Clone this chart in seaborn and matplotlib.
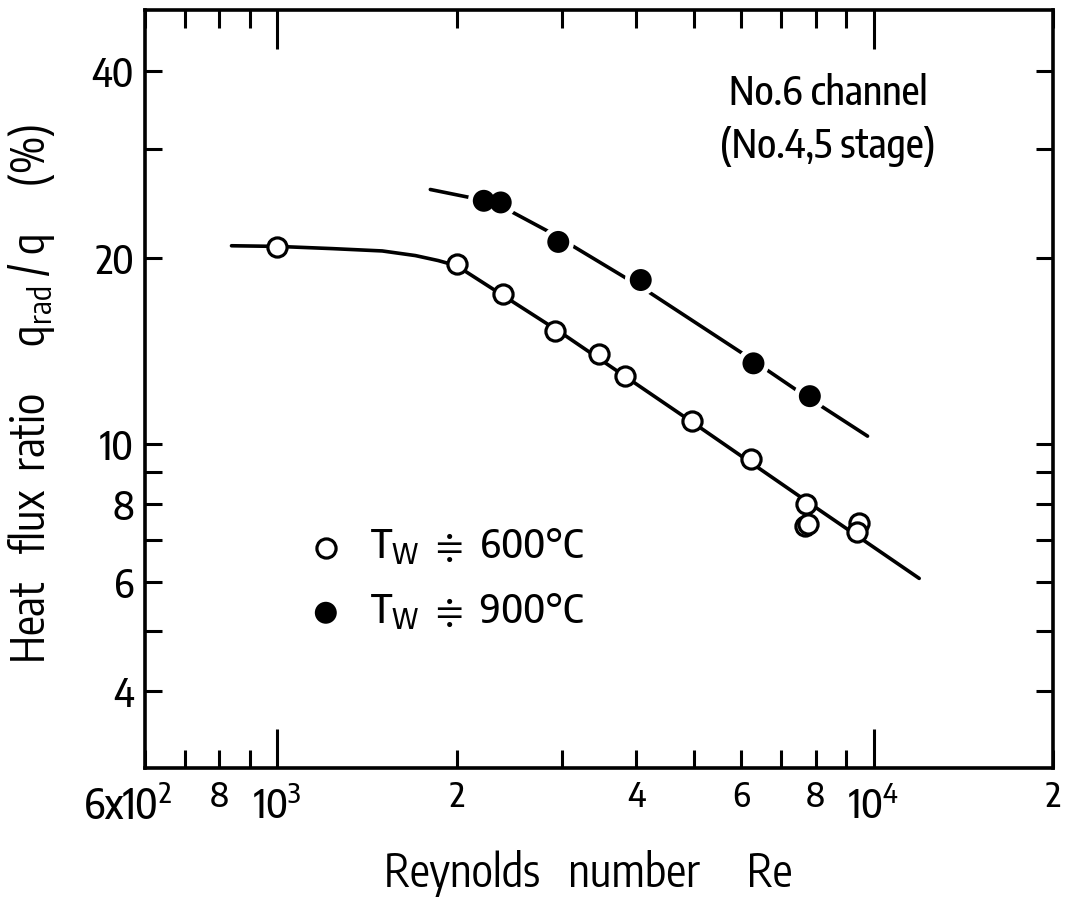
import matplotlib
matplotlib.use("Agg")
import matplotlib.pyplot as plt
import matplotlib.transforms as mtransforms
import seaborn as sns
import pandas as pd
from matplotlib import font_manager
from matplotlib.font_manager import FontProperties
from matplotlib.textpath import TextPath
from matplotlib.ticker import FixedLocator, FixedFormatter, NullFormatter

# ---------------- data ----------------
re_600 = [1000, 2000, 2390, 2920, 3470, 3830, 4970, 6220, 7700, 7670, 7760, 9440, 9370]
q_600 = [20.8, 19.5, 17.5, 15.2, 14.0, 12.9, 10.9, 9.45, 8.0, 7.37, 7.42, 7.45, 7.2]
re_900 = [2220, 2370, 2960, 4070, 6290, 7820]
q_900 = [24.7, 24.55, 21.2, 18.4, 13.5, 11.95]
fit600_re = [838, 1000, 1235, 1500, 1705, 1862, 2000, 3000, 5000, 8000, 11930]
fit600_q = [20.9, 20.85, 20.68, 20.5, 20.15, 19.78, 19.4, 15.1, 10.8, 7.9, 6.07]
fit900_re = [1806, 2106, 2455, 2872, 3861, 4217, 6049, 7469, 9772]
fit900_q = [25.76, 25.0, 23.8, 21.95, 18.49, 17.55, 13.98, 12.18, 10.30]

x_major = [1000, 10000]
x_major_labels = [r"$\mathregular{10^3}$", r"$\mathregular{10^4}$"]
x_minor = [600, 700, 800, 900, 2000, 3000, 4000, 5000, 6000, 7000, 8000, 9000, 20000]
x_minor_labels = [r"6x$\mathregular{10^2}$", "", "8", "", "2", "", "4", "", "6", "", "8", "", "2"]
y_major = [4, 6, 8, 10, 20, 40]
y_major_labels = ["4", "6", "8", "10", "20", "40"]
y_minor = [5, 7, 9, 30]

label_600 = r"T$_\mathregular{W}$ $\doteqdot$ 600°C"
label_900 = r"T$_\mathregular{W}$ $\doteqdot$ 900°C"
xlabel = "Reynolds   number     Re"
ylabel = "Heat   flux  ratio     q$_\\mathregular{rad}$ / q     (%)"
note = "No.6 channel\n(No.4,5 stage)"

# ---------------- style ----------------
sns.set_theme(style="ticks")
names = {f.name for f in font_manager.fontManager.ttflist}
fam = next((f for f in ["Encode Sans Condensed", "Roboto Condensed", "Archivo Narrow"] if f in names),
           "DejaVu Sans")
WEIGHT = "medium"
plt.rcParams['font.family'] = [fam, 'DejaVu Sans']
plt.rcParams['font.weight'] = WEIGHT
plt.rcParams['mathtext.fontset'] = 'custom'
plt.rcParams['mathtext.rm'] = fam + ":" + WEIGHT
plt.rcParams['mathtext.fallback'] = 'stixsans'
plt.rcParams['axes.linewidth'] = 2.6
for k in ['axes.edgecolor', 'text.color', 'axes.labelcolor', 'xtick.color', 'ytick.color']:
    plt.rcParams[k] = 'black'


def fs(px, ch="H"):
    """font size (pt) giving glyph `ch` a height of `px` pixels at 100 dpi"""
    h = TextPath((0, 0), ch, size=100,
                 prop=FontProperties(family=fam, weight=WEIGHT)).get_extents().height
    return px * 100.0 / h * 0.72


fig = plt.figure(figsize=(10.65, 8.97), dpi=100)
ax = fig.add_axes([145/1065, 1-768/897, 908/1065, 758/897])

d600 = pd.DataFrame({"Re": fit600_re, "q": fit600_q})
d900 = pd.DataFrame({"Re": fit900_re, "q": fit900_q})
sns.lineplot(data=d600, x="Re", y="q", ax=ax, color="black", lw=2.6, sort=False, zorder=2)
sns.lineplot(data=d900, x="Re", y="q", ax=ax, color="black", lw=2.6, sort=False, zorder=2)

p600 = pd.DataFrame({"Re": re_600, "q": q_600})
p900 = pd.DataFrame({"Re": re_900, "q": q_900})
sns.scatterplot(data=p900, x="Re", y="q", ax=ax, s=520, color="white", edgecolor="none",
                zorder=3, label="_nolegend_")
sns.scatterplot(data=p600, x="Re", y="q", ax=ax, s=190, facecolor="white", edgecolor="black",
                linewidth=2.3, zorder=4, label=label_600)
sns.scatterplot(data=p900, x="Re", y="q", ax=ax, s=250, color="black", edgecolor="none",
                zorder=4, label=label_900)

ax.set_xscale("log")
ax.set_yscale("log")
ax.set_xlim(600, 20000)
ax.set_ylim(3, 50.2)

ax.xaxis.set_major_locator(FixedLocator(x_major))
ax.xaxis.set_major_formatter(FixedFormatter(x_major_labels))
ax.xaxis.set_minor_locator(FixedLocator(x_minor))
ax.xaxis.set_minor_formatter(FixedFormatter(x_minor_labels))
ax.yaxis.set_major_locator(FixedLocator(y_major))
ax.yaxis.set_major_formatter(FixedFormatter(y_major_labels))
ax.yaxis.set_minor_locator(FixedLocator(y_minor))
ax.yaxis.set_minor_formatter(NullFormatter())

ax.tick_params(axis='x', which='major', direction='in', length=28, width=2.2,
               top=True, bottom=True, labelsize=fs(30, "0"), pad=14)
ax.tick_params(axis='x', which='minor', direction='in', length=13, width=2.2,
               top=True, bottom=True, labelsize=fs(25.5, "4"), pad=8)
ax.tick_params(axis='y', which='both', direction='in', length=12, width=2.2,
               left=True, right=True, labelsize=fs(29, "4"), pad=8)

ax.set_xlabel(xlabel, fontsize=fs(33))
ax.xaxis.set_label_coords(0.488, -0.108)
ax.set_ylabel(ylabel, fontsize=fs(33))
ax.yaxis.set_label_coords(-0.097, 0.494)

ax.text(0.752, 0.855, note, transform=ax.transAxes,
        ha="center", va="center", fontsize=fs(29), linespacing=1.4)

ax.legend(loc="center left", bbox_to_anchor=(0.177, 0.249), frameon=False,
          fontsize=fs(30.5, "6"), handlelength=1.0, handletextpad=0.6, borderpad=0,
          labelspacing=0.6, borderaxespad=0)

fig.canvas.draw()
lab0 = ax.xaxis.get_minor_ticks()[0].label1
lab0.set_fontsize(fs(31, "0"))
lab0.set_horizontalalignment("right")
lab0.set_transform(lab0.get_transform() + mtransforms.ScaledTranslation(0.27, -0.07, fig.dpi_scale_trans))

fig.savefig("out.png", dpi=100)
